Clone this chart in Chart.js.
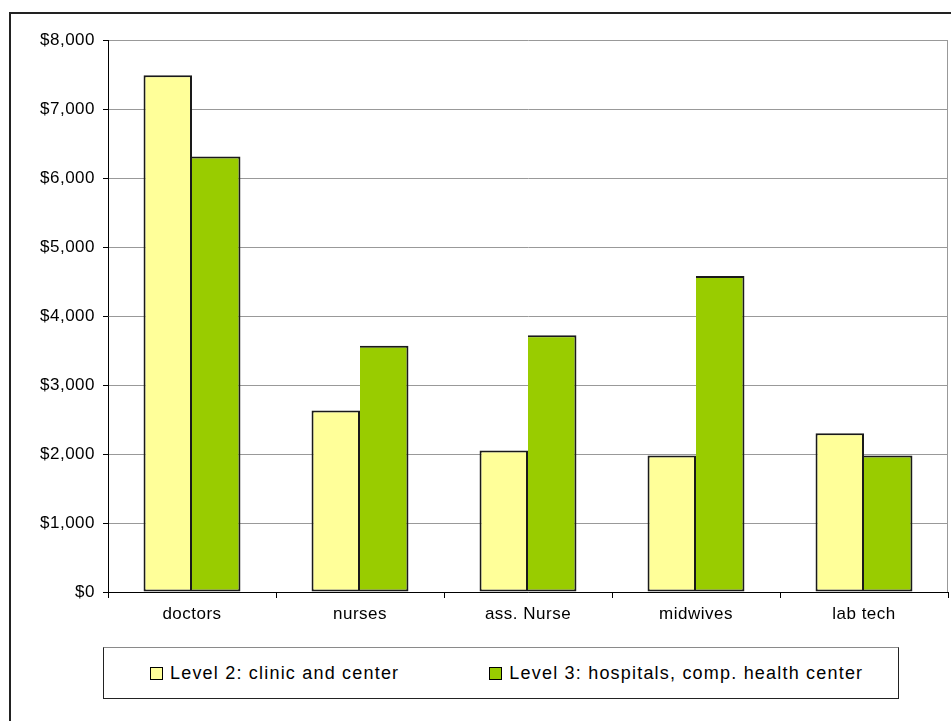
<!DOCTYPE html>
<html>
<head>
<meta charset="utf-8">
<title>Monthly salary by level</title>
<script src="https://cdn.jsdelivr.net/npm/chart.js@4/dist/chart.umd.min.js"></script>
<style>
  html, body { margin: 0; padding: 0; background: #fff; overflow: hidden; width: 951px; height: 721px; }
  #frame { position: absolute; left: 9px; top: 12px; width: 1000px; height: 800px;
           border-left: 2px solid #222; border-top: 2px solid #222; }
  #wrap { position: absolute; left: 0; top: 0; width: 951px; height: 721px; }
  #legend { position: absolute; left: 103px; top: 647px; width: 796px; height: 52px; box-sizing: border-box;
            border: 1px solid #222; border-top-color: #8a8a8a; background: #fff;
            display: flex; align-items: center; padding-left: 46px; gap: 90px;
            font: 18px "Liberation Sans", Arial, sans-serif; letter-spacing: 1.2px; color: #000; }
  #legend .item { display: flex; align-items: center; white-space: nowrap; }
  #legend .swatch { width: 11px; height: 11px; border: 1.5px solid #000; margin-right: 7px; }
</style>
</head>
<body>
<div id="frame"></div>
<div id="wrap"><canvas id="chart" width="951" height="721"></canvas></div>
<div id="legend"></div>
<script>
// Staff categories along the x axis
const categories = ['doctors', 'nurses', 'ass. Nurse', 'midwives', 'lab tech'];
// Series names
const seriesNames = ['Level 2: clinic and center', 'Level 3: hospitals, comp. health center'];
// Values per category (USD)
const level2Values = [7490, 2630, 2050, 1980, 2300];
const level3Values = [6310, 3570, 3720, 4580, 1980];
// Value axis range
const yMin = 0;
const yMax = 8000;
const yStep = 1000;

const FONT = '"Liberation Sans", Arial, sans-serif';

// Widen glyph spacing for all canvas text
const spacingPlugin = {
  id: 'spacing',
  beforeDraw(chart) { chart.ctx.letterSpacing = '0.5px'; }
};

// Gray line closing the plot area on the right
const plotEdge = {
  id: 'plotEdge',
  beforeDatasetsDraw(chart) {
    const { ctx, chartArea: a } = chart;
    ctx.save();
    ctx.strokeStyle = '#999';
    ctx.lineWidth = 1;
    ctx.beginPath();
    ctx.moveTo(Math.round(a.right) - 0.5, a.top);
    ctx.lineTo(Math.round(a.right) - 0.5, a.bottom);
    ctx.stroke();
    ctx.restore();
  }
};

// HTML legend built from the chart's own legend items
const htmlLegend = {
  id: 'htmlLegend',
  afterUpdate(chart) {
    const box = document.getElementById('legend');
    box.innerHTML = '';
    const items = chart.options.plugins.legend.labels.generateLabels(chart);
    items.forEach(it => {
      const el = document.createElement('div');
      el.className = 'item';
      const sw = document.createElement('span');
      sw.className = 'swatch';
      sw.style.background = it.fillStyle;
      const tx = document.createElement('span');
      tx.textContent = it.text;
      el.appendChild(sw);
      el.appendChild(tx);
      box.appendChild(el);
    });
  }
};

new Chart(document.getElementById('chart'), {
  type: 'bar',
  data: {
    labels: categories,
    datasets: [
      { label: seriesNames[0], data: level2Values, backgroundColor: '#FFFF99',
        borderColor: '#1a1a1a', borderWidth: 2, borderSkipped: false },
      { label: seriesNames[1], data: level3Values, backgroundColor: '#99CC00',
        borderColor: '#1a1a1a', borderWidth: 2, borderSkipped: 'left' }
    ]
  },
  options: {
    responsive: false,
    animation: false,
    devicePixelRatio: 1,
    layout: { padding: { top: 40, right: 3, left: 0, bottom: 0 } },
    datasets: { bar: { categoryPercentage: 0.577, barPercentage: 1 } },
    plugins: {
      legend: { display: false },
      tooltip: { enabled: false },
      title: { display: false }
    },
    scales: {
      x: {
        afterFit(scale) { scale.height = 129; },
        grid: { display: true, drawOnChartArea: false, drawTicks: true, tickLength: 6,
                tickColor: '#000', offset: true },
        border: { display: true, color: '#000', width: 1 },
        ticks: { color: '#000', padding: 6, font: { family: FONT, size: 17 }, maxRotation: 0 }
      },
      y: {
        min: yMin, max: yMax,
        afterFit(scale) { scale.width = 108; },
        grid: { color: '#999', lineWidth: 1, tickColor: '#000', tickLength: 5, drawTicks: true },
        border: { display: true, color: '#000', width: 1 },
        ticks: {
          stepSize: yStep, color: '#000', padding: 8,
          font: { family: FONT, size: 17 },
          callback: v => '$' + Number(v).toLocaleString('en-US')
        }
      }
    }
  },
  plugins: [spacingPlugin, plotEdge, htmlLegend]
});
</script>
</body>
</html>
